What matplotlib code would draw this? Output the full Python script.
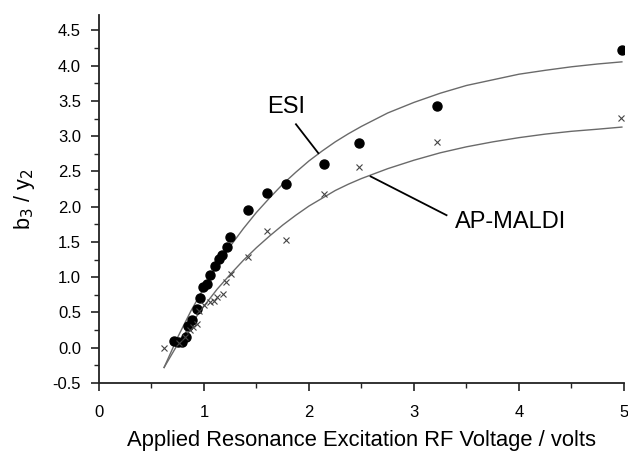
import numpy as np
import matplotlib.pyplot as plt
from matplotlib.ticker import MultipleLocator

plt.rcParams['font.family'] = ['Liberation Sans', 'DejaVu Sans']

# datos ESI (puntos negros)
esi_x = [0.71, 0.75, 0.79, 0.83, 0.85, 0.89, 0.93, 0.96, 0.99, 1.03, 1.06, 1.105,
         1.14, 1.17, 1.215, 1.25, 1.42, 1.60, 1.78, 2.14, 2.48, 3.22, 4.98]
esi_y = [0.09, 0.08, 0.08, 0.15, 0.31, 0.39, 0.55, 0.71, 0.855, 0.90, 1.03, 1.16,
         1.26, 1.31, 1.43, 1.565, 1.96, 2.19, 2.32, 2.61, 2.90, 3.43, 4.22]

# datos AP-MALDI (cruces)
ap_x = [0.62, 0.76, 0.82, 0.87, 0.90, 0.93, 0.955, 1.00, 1.057, 1.10, 1.127, 1.178,
        1.21, 1.254, 1.42, 1.60, 1.78, 2.14, 2.48, 3.22, 4.97]
ap_y = [0.00, 0.07, 0.15, 0.25, 0.30, 0.33, 0.52, 0.60, 0.65, 0.665, 0.72, 0.76,
        0.935, 1.04, 1.28, 1.65, 1.53, 2.18, 2.57, 2.92, 3.26]

# curvas de ajuste
fit_x = [0.62, 0.75, 0.875, 1.0, 1.125, 1.25, 1.375, 1.5, 1.625, 1.75, 1.875, 2.0,
         2.125, 2.25, 2.375, 2.5, 2.75, 3.0, 3.25, 3.5, 3.75, 4.0, 4.25, 4.5, 4.75, 4.98]
esi_fit = [-0.28, 0.15, 0.52, 0.85, 1.16, 1.44, 1.69, 1.92, 2.125, 2.32, 2.49, 2.65,
           2.79, 2.92, 3.035, 3.14, 3.33, 3.48, 3.61, 3.72, 3.80, 3.88, 3.935, 3.985, 4.025, 4.055]
ap_fit = [-0.28, 0.05, 0.33, 0.59, 0.83, 1.04, 1.24, 1.42, 1.585, 1.74, 1.88, 2.01,
          2.12, 2.23, 2.32, 2.40, 2.54, 2.66, 2.765, 2.85, 2.92, 2.98, 3.03, 3.07, 3.10, 3.13]

fig = plt.figure(figsize=(6.28, 4.51), dpi=100)
ax = fig.add_axes([0.1576, 0.1508, 0.836, 0.816])

ax.plot(fit_x, esi_fit, color='#6a6a6a', lw=1.0, zorder=2)
ax.plot(fit_x, ap_fit, color='#6a6a6a', lw=1.0, zorder=2)
ax.plot(esi_x, esi_y, 'o', color='black', ms=6.5, zorder=3)
ax.plot(ap_x, ap_y, 'x', color='#444444', ms=5, mew=0.8, zorder=3)

# etiquetas con lineas
ax.text(1.786, 3.42, 'ESI', fontsize=17, ha='center', va='center')
ax.plot([1.876, 2.089], [3.17, 2.76], color='black', lw=1.3)
ax.text(3.92, 1.78, 'AP-MALDI', fontsize=17, ha='center', va='center')
ax.plot([2.587, 3.31], [2.43, 1.88], color='black', lw=1.3)

ax.set_xlim(0, 5)
ax.set_ylim(-0.5, 4.72)
ax.xaxis.set_major_locator(MultipleLocator(1))
ax.xaxis.set_minor_locator(MultipleLocator(0.5))
ax.yaxis.set_major_locator(MultipleLocator(0.5))
ax.yaxis.set_minor_locator(MultipleLocator(0.25))
ax.yaxis.set_major_formatter(plt.FuncFormatter(lambda v, p: f'{v:.1f}'))

for s in ['top', 'right']:
    ax.spines[s].set_visible(False)
for s in ['left', 'bottom']:
    ax.spines[s].set_linewidth(1.3)
    ax.spines[s].set_color('#222222')

ax.tick_params(which='major', direction='out', length=6, width=1.2, labelsize=12, color='#222222')
ax.tick_params(which='minor', direction='out', length=3.5, width=1.0, color='#222222')
ax.tick_params(axis='x', which='major', pad=10)
ax.tick_params(axis='y', which='major', pad=7)

ax.set_xlabel('Applied Resonance Excitation RF Voltage / volts', fontsize=15.8, labelpad=7)
ax.set_ylabel('b$_3$ / y$_2$', fontsize=15.5, labelpad=11)

fig.savefig('out.png', dpi=100)
